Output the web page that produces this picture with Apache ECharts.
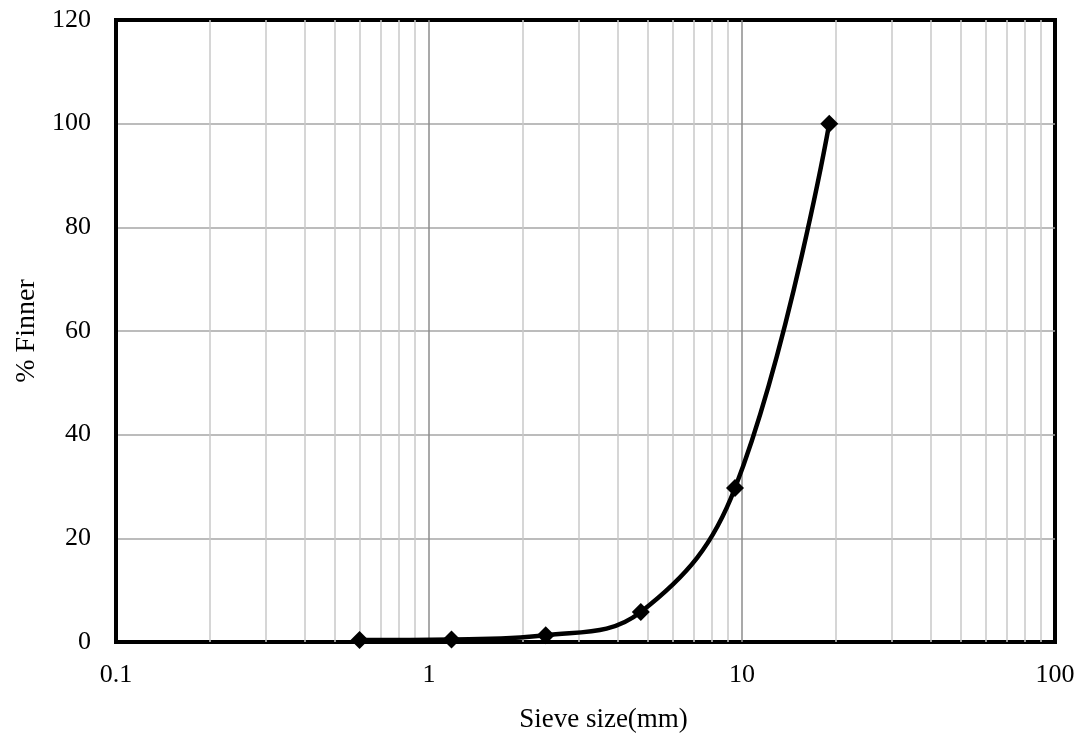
<!DOCTYPE html>
<html><head><meta charset="utf-8">
<script src="https://cdn.jsdelivr.net/npm/echarts@6/dist/echarts.min.js"></script>
<style>html,body{margin:0;padding:0;background:#fff}#c{width:1088px;height:745px}</style>
</head><body><div id="c"></div>
<script>
const sieveSizes = [0.6, 1.18, 2.36, 4.75, 9.5, 19];
const percentFiner = [0.4, 0.5, 1.3, 5.8, 29.7, 100];
const minorGridX = [0.2,0.3,0.4,0.5,0.6,0.7,0.8,0.9,2,3,4,5,6,7,8,9,20,30,40,50,60,70,80,90];
const majorGridX = [1, 10];
const xTitle = 'Sieve size(mm)';
const yTitle = '% Finner';

const font = '"Liberation Serif","Times New Roman",serif';
const chart = echarts.init(document.getElementById('c'));
chart.setOption({
  animation: false,
  grid: {left: 116, right: 33, top: 20, bottom: 103, show: true, borderColor: '#000', borderWidth: 4, backgroundColor: 'transparent'},
  xAxis: {
    type: 'log', logBase: 10, min: 0.1, max: 100,
    name: xTitle, nameLocation: 'middle', nameGap: 64,
    nameTextStyle: {fontFamily: font, fontSize: 27, color: '#000', padding: [0, 0, 0, 36]},
    axisLine: {show: true, lineStyle: {color: '#000', width: 4}}, axisTick: {show: false},
    axisLabel: {fontFamily: font, fontSize: 26, color: '#000', margin: 20,
      formatter: v => String(Number(v.toPrecision(6)))},
    splitLine: {show: false}
  },
  yAxis: {
    type: 'value', min: 0, max: 120, interval: 20,
    name: yTitle, nameLocation: 'middle', nameGap: 72,
    nameTextStyle: {fontFamily: font, fontSize: 28, color: '#000'},
    axisLine: {show: true, lineStyle: {color: '#000', width: 4}}, axisTick: {show: false},
    axisLabel: {fontFamily: font, fontSize: 26, color: '#000', margin: 25},
    splitLine: {show: true, showMinLine: false, showMaxLine: false, lineStyle: {color: '#a6a6a6', width: 1.5}}
  },
  series: [
    {
      type: 'line', data: [], silent: true,
      markLine: {
        silent: true, symbol: 'none', label: {show: false},
        animation: false,
        data: minorGridX.map(x => ({xAxis: x, lineStyle: {color: '#c8c8c8', width: 1.5, type: 'solid'}}))
          .concat(majorGridX.map(x => ({xAxis: x, lineStyle: {color: '#8c8c8c', width: 1.5, type: 'solid'}})))
      }
    },
    {
      type: 'line',
      data: sieveSizes.map((s, i) => [s, percentFiner[i]]),
      smooth: 0.4,
      symbol: 'diamond', symbolSize: 18,
      lineStyle: {color: '#000', width: 4.5},
      itemStyle: {color: '#000'},
      z: 5
    }
  ]
});
</script></body></html>
